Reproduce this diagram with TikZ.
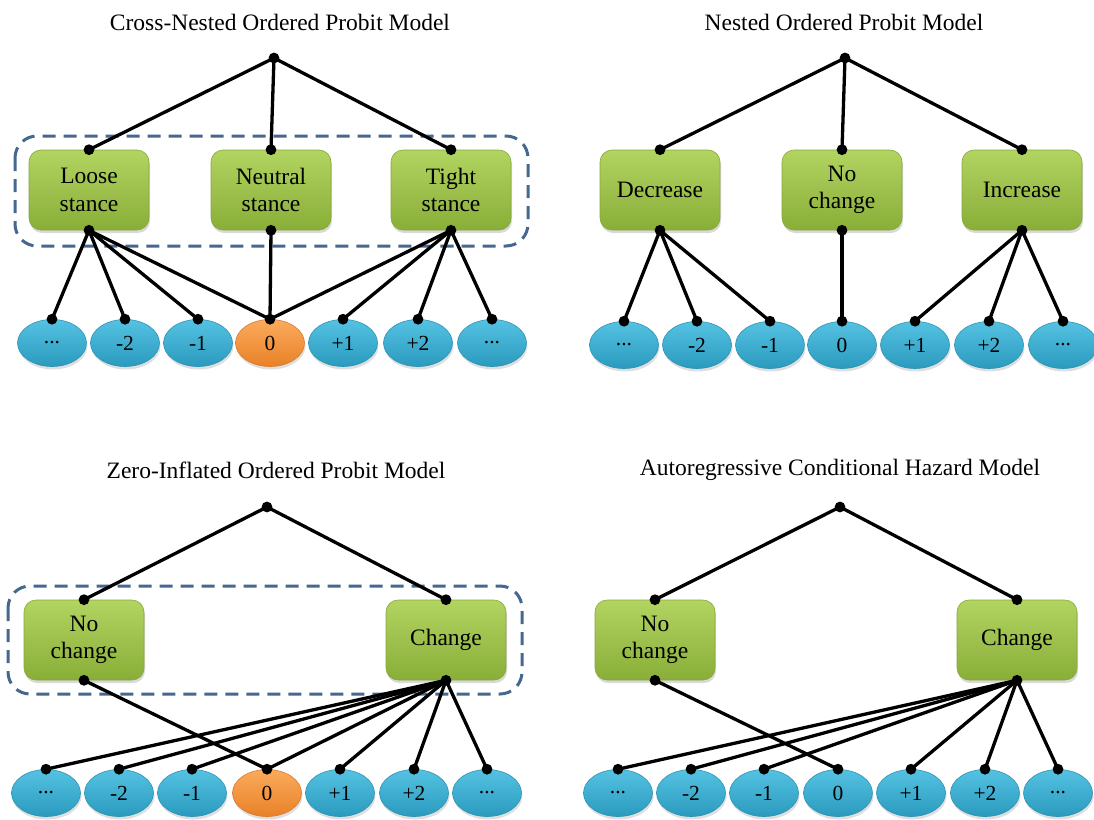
\documentclass[tikz,border=0pt]{standalone}
\usepackage{fontspec}
\setmainfont{Liberation Serif}
\usetikzlibrary{shapes.geometric,shadows}
\definecolor{gtop}{HTML}{B2D460}
\definecolor{gbot}{HTML}{88AE38}
\definecolor{gdraw}{HTML}{86A83E}
\definecolor{btop}{HTML}{55C2E2}
\definecolor{bbot}{HTML}{2A9ABE}
\definecolor{bdraw}{HTML}{2B93B5}
\definecolor{otop}{HTML}{FBAB5C}
\definecolor{obot}{HTML}{E98128}
\definecolor{odraw}{HTML}{D9782A}
\definecolor{dashc}{HTML}{46678F}
\newcommand{\tdots}{...}
\tikzset{
  catbox/.style={rectangle, rounded corners=12pt, minimum width=120pt, minimum height=80pt,
    top color=gtop, bottom color=gbot, draw=gdraw, line width=0.6pt, align=center,
    font=\fontsize{23.5}{27.5}\selectfont,
    drop shadow={opacity=0.3, shadow xshift=1pt, shadow yshift=-3pt}},
  outc/.style={ellipse, minimum width=69pt, minimum height=47pt, inner sep=0pt,
    top color=btop, bottom color=bbot, draw=bdraw, line width=0.6pt,
    font=\fontsize{21.5}{24}\selectfont,
    drop shadow={opacity=0.25, shadow xshift=1pt, shadow yshift=-3pt}},
  zero/.style={top color=otop, bottom color=obot, draw=odraw},
  link/.style={line width=3.3pt, black},
  nest/.style={draw=dashc, line width=3pt, dash pattern=on 13pt off 8pt, rounded corners=22pt},
  ttl/.style={font=\fontsize{23.5}{27}\selectfont}
}
\newcommand{\jdot}[1]{\fill[black] (#1) circle (5.4pt);}
\begin{document}
\begin{tikzpicture}[x=1pt,y=-1pt]
\useasboundingbox (0,0) rectangle (1094,819);

% titles
\node[ttl] (t1) at (280,22) {Cross-Nested Ordered Probit Model};
\node[ttl] (t2) at (844,22) {Nested Ordered Probit Model};
\node[ttl] (t3) at (276,470) {Zero-Inflated Ordered Probit Model};
\node[ttl] (t4) at (840,470) {Autoregressive Conditional Hazard Model};

% nests
\draw[nest] (15,136) rectangle (528,246);
\draw[nest] (8,586) rectangle (522,694);

% roots
\coordinate (r1) at (274,58);
\coordinate (r2) at (845,58);
\coordinate (r3) at (267,507);
\coordinate (r4) at (840,507);

% panel 1
\node[catbox] (b11) at (89,190) {Loose\\stance};
\node[catbox] (b12) at (271,190) {Neutral\\stance};
\node[catbox] (b13) at (451,190) {Tight\\stance};
\foreach \i/\x/\t in {1/52/\tdots,2/125/-2,3/198/-1,5/343/+1,6/418/+2,7/492/\tdots}
  \node[outc] (p1e\i) at (\x,343) {\t};
\node[outc,zero] (p1e4) at (270,343) {0};

% panel 2
\node[catbox] (b21) at (660,190) {Decrease};
\node[catbox] (b22) at (842,190) {No\\change};
\node[catbox] (b23) at (1022,190) {Increase};
\foreach \i/\x/\t in {1/624/\tdots,2/697/-2,3/770/-1,4/842/0,5/915/+1,6/989/+2,7/1063/\tdots}
  \node[outc] (p2e\i) at (\x,345) {\t};

% panel 3
\node[catbox] (b31) at (84,640) {No\\change};
\node[catbox] (b32) at (446,640) {Change};
\foreach \i/\x/\t in {1/46/\tdots,2/119/-2,3/192/-1,5/340/+1,6/414/+2,7/487/\tdots}
  \node[outc] (p3e\i) at (\x,793) {\t};
\node[outc,zero] (p3e4) at (267,793) {0};

% panel 4
\node[catbox] (b41) at (655,640) {No\\change};
\node[catbox] (b42) at (1017,640) {Change};
\foreach \i/\x/\t in {1/618/\tdots,2/691/-2,3/764/-1,4/838/0,5/911/+1,6/985/+2,7/1058/\tdots}
  \node[outc] (p4e\i) at (\x,793) {\t};

% connectors panel 1
\foreach \b in {b11,b12,b13} {\draw[link] (r1) -- (\b.north); \jdot{\b.north}}
\foreach \e in {1,2,3,4} {\draw[link] (b11.south) -- (p1e\e.north);}
\draw[link] (b12.south) -- (p1e4.north);
\foreach \e in {4,5,6,7} {\draw[link] (b13.south) -- (p1e\e.north);}
\foreach \b in {b11,b12,b13} {\jdot{\b.south}}
\foreach \e in {1,...,7} {\jdot{p1e\e.north}}
\jdot{r1}

% connectors panel 2
\foreach \b in {b21,b22,b23} {\draw[link] (r2) -- (\b.north); \jdot{\b.north}}
\foreach \e in {1,2,3} {\draw[link] (b21.south) -- (p2e\e.north);}
\draw[link] (b22.south) -- (p2e4.north);
\foreach \e in {5,6,7} {\draw[link] (b23.south) -- (p2e\e.north);}
\foreach \b in {b21,b22,b23} {\jdot{\b.south}}
\foreach \e in {1,...,7} {\jdot{p2e\e.north}}
\jdot{r2}

% connectors panel 3
\foreach \b in {b31,b32} {\draw[link] (r3) -- (\b.north); \jdot{\b.north}}
\draw[link] (b31.south) -- (p3e4.north);
\foreach \e in {1,...,7} {\draw[link] (b32.south) -- (p3e\e.north);}
\foreach \b in {b31,b32} {\jdot{\b.south}}
\foreach \e in {1,...,7} {\jdot{p3e\e.north}}
\jdot{r3}

% connectors panel 4
\foreach \b in {b41,b42} {\draw[link] (r4) -- (\b.north); \jdot{\b.north}}
\draw[link] (b41.south) -- (p4e4.north);
\foreach \e in {1,2,3,5,6,7} {\draw[link] (b42.south) -- (p4e\e.north);}
\foreach \b in {b41,b42} {\jdot{\b.south}}
\foreach \e in {1,...,7} {\jdot{p4e\e.north}}
\jdot{r4}
\end{tikzpicture}
\end{document}
